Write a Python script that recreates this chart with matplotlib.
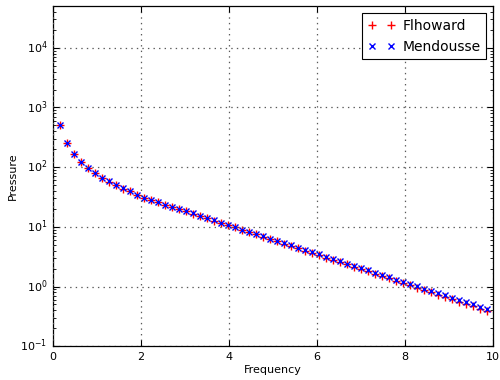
import numpy as np
import matplotlib
matplotlib.use("Agg")
import matplotlib.pyplot as plt

plt.style.use("classic")

# frequency grid: n / (2 pi), n = 1..62
freq = np.arange(1, 63) / (2 * np.pi)

mendousse = [510, 251, 165, 123, 95.5, 79.4, 66.1, 57.5, 50.1, 44.0,
             39.4, 34.7, 30.9, 28.2, 25.8, 23.6, 21.7, 19.9, 18.3, 16.8,
             15.4, 14.1, 12.9, 11.7, 10.7, 9.82, 9.00, 8.24, 7.55, 6.92,
             6.34, 5.81, 5.32, 4.88, 4.47, 4.09, 3.75, 3.44, 3.15, 2.88,
             2.64, 2.42, 2.22, 2.03, 1.86, 1.71, 1.56, 1.43, 1.31, 1.20,
             1.10, 1.01, 0.925, 0.847, 0.776, 0.711, 0.652, 0.597, 0.547, 0.501,
             0.459, 0.421]

flhoward = [508, 250, 164, 122, 95.0, 79.0, 65.8, 57.2, 49.9, 43.8,
            39.2, 34.5, 30.7, 28.0, 25.6, 23.4, 21.5, 19.7, 18.1, 16.6,
            15.2, 13.9, 12.7, 11.5, 10.6, 9.80, 8.96, 8.19, 7.49, 6.85,
            6.26, 5.73, 5.23, 4.79, 4.38, 4.00, 3.66, 3.35, 3.06, 2.79,
            2.55, 2.34, 2.14, 1.95, 1.79, 1.64, 1.49, 1.37, 1.25, 1.14,
            1.04, 0.955, 0.873, 0.798, 0.729, 0.667, 0.610, 0.558, 0.510, 0.465,
            0.426, 0.390]

fig = plt.figure(figsize=(5, 3.8), dpi=100, facecolor="white")
ax = fig.add_axes([0.106, 0.089, 0.88, 0.895])

ax.semilogy(freq, flhoward, "r+", ms=6, mew=1, label="Flhoward")
ax.semilogy(freq, mendousse, "bx", ms=5, mew=1, label="Mendousse")

ax.set_xlim(0, 10)
ax.set_ylim(0.1, 5e4)
ax.grid(True, which="major", color="0.35", linestyle=(0, (1, 3)), linewidth=0.9)
ax.tick_params(labelsize=8, length=4, width=0.8)
ax.tick_params(which="minor", length=2, width=0.6)
for sp in ax.spines.values():
    sp.set_linewidth(0.9)
ax.set_xlabel("Frequency", fontsize=8, labelpad=2)
ax.set_ylabel("Pressure", fontsize=8, labelpad=2)

leg = ax.legend(loc="upper right", numpoints=2, fontsize=10,
                fancybox=False, borderaxespad=0.5, handletextpad=0.5)
leg.get_frame().set_edgecolor("black")
leg.get_frame().set_linewidth(0.8)

fig.savefig("out.png", dpi=100, facecolor="white")
